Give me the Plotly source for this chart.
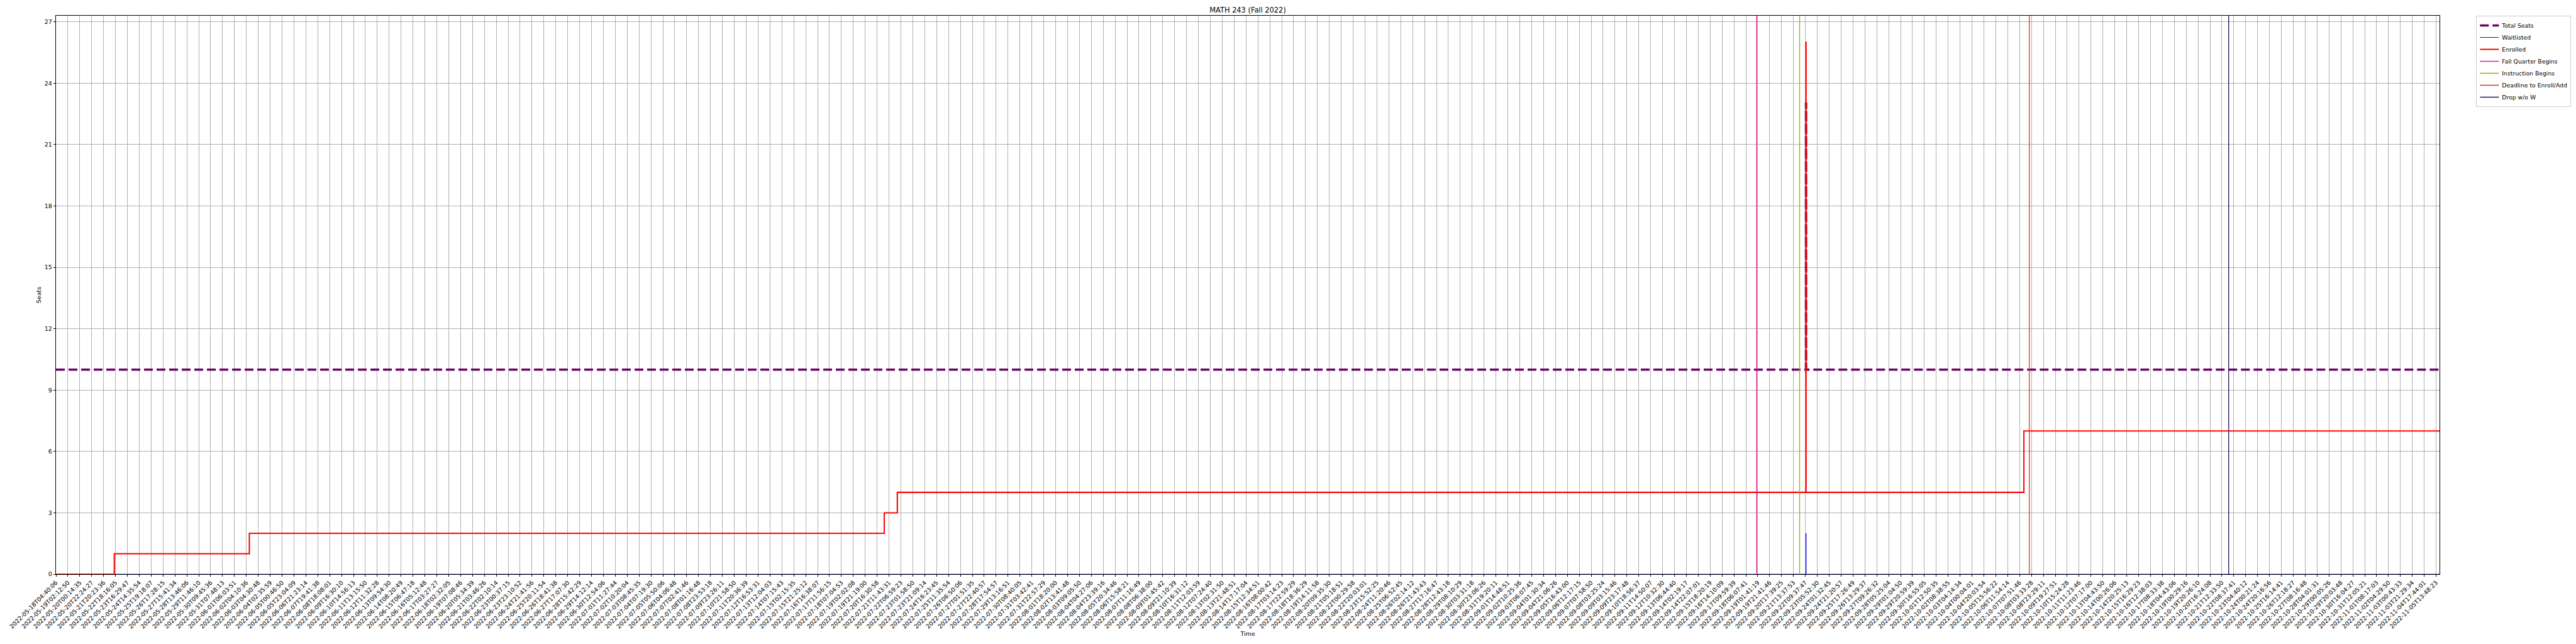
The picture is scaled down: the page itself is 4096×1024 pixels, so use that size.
import numpy as np
import pandas as pd
import plotly.graph_objects as go

# ---------------- data ----------------
title_text = "MATH 243 (Fall 2022)"

tick_times = [
    "2022-05-18T04:40:06", "2022-05-19T02:12:50", "2022-05-20T00:14:35", "2022-05-20T22:24:27",
    "2022-05-21T20:23:36", "2022-05-22T18:16:05", "2022-05-23T16:29:47", "2022-05-24T14:35:54",
    "2022-05-25T19:18:07", "2022-05-26T17:28:15", "2022-05-27T15:41:34", "2022-05-28T13:46:06",
    "2022-05-29T11:46:10", "2022-05-30T09:45:36", "2022-05-31T07:48:13", "2022-06-01T06:03:51",
    "2022-06-02T04:10:36", "2022-06-03T04:30:48", "2022-06-04T02:35:59", "2022-06-05T00:46:50",
    "2022-06-05T23:04:09", "2022-06-06T21:23:14", "2022-06-07T19:41:38", "2022-06-08T18:08:01",
    "2022-06-09T16:30:10", "2022-06-10T14:56:13", "2022-06-11T13:15:50", "2022-06-12T11:32:28",
    "2022-06-13T09:54:30", "2022-06-14T08:20:49", "2022-06-15T06:47:18", "2022-06-16T05:12:48",
    "2022-06-17T03:27:27", "2022-06-18T02:32:05", "2022-06-19T07:08:46", "2022-06-20T05:34:39",
    "2022-06-21T03:46:26", "2022-06-22T02:10:14", "2022-06-23T00:37:15", "2022-06-23T23:10:52",
    "2022-06-24T21:41:56", "2022-06-25T20:11:54", "2022-06-26T18:41:38", "2022-06-27T17:07:30",
    "2022-06-28T15:42:29", "2022-06-29T14:12:14", "2022-06-30T12:54:06", "2022-07-01T11:27:44",
    "2022-07-02T10:20:04", "2022-07-03T08:45:35", "2022-07-04T07:19:30", "2022-07-05T05:50:06",
    "2022-07-06T04:06:48", "2022-07-07T02:41:46", "2022-07-08T01:16:48", "2022-07-08T23:53:18",
    "2022-07-09T23:26:11", "2022-07-10T21:58:50", "2022-07-11T20:36:39", "2022-07-12T16:53:31",
    "2022-07-13T12:04:03", "2022-07-14T07:15:43", "2022-07-15T02:15:35", "2022-07-15T21:25:12",
    "2022-07-16T16:38:07", "2022-07-17T11:56:15", "2022-07-18T07:04:53", "2022-07-19T02:02:08",
    "2022-07-19T21:19:00", "2022-07-20T16:30:58", "2022-07-21T11:43:31", "2022-07-22T06:59:23",
    "2022-07-23T01:58:50", "2022-07-23T21:09:14", "2022-07-24T16:23:45", "2022-07-25T11:35:54",
    "2022-07-26T06:50:06", "2022-07-27T01:51:35", "2022-07-27T22:40:57", "2022-07-28T17:54:57",
    "2022-07-29T13:16:51", "2022-07-30T08:40:05", "2022-07-31T03:42:41", "2022-07-31T22:57:29",
    "2022-08-01T18:20:00", "2022-08-02T13:41:48", "2022-08-03T09:05:50", "2022-08-04T04:27:06",
    "2022-08-04T23:39:16", "2022-08-05T20:34:46", "2022-08-06T15:58:21", "2022-08-07T11:16:49",
    "2022-08-08T06:38:00", "2022-08-09T01:45:42", "2022-08-09T21:10:39", "2022-08-10T16:31:12",
    "2022-08-11T12:03:59", "2022-08-12T07:24:40", "2022-08-13T02:31:50", "2022-08-13T21:48:51",
    "2022-08-14T17:17:04", "2022-08-15T12:34:51", "2022-08-16T08:00:42", "2022-08-17T03:14:23",
    "2022-08-17T22:59:29", "2022-08-18T18:36:29", "2022-08-19T14:11:58", "2022-08-20T09:35:30",
    "2022-08-21T05:18:51", "2022-08-22T00:29:58", "2022-08-22T20:03:01", "2022-08-23T15:52:25",
    "2022-08-24T11:20:46", "2022-08-25T06:52:45", "2022-08-26T02:14:12", "2022-08-26T21:43:43",
    "2022-08-27T17:16:47", "2022-08-28T12:43:18", "2022-08-29T08:10:29", "2022-08-30T03:31:18",
    "2022-08-30T23:06:26", "2022-08-31T19:20:11", "2022-09-01T14:48:51", "2022-09-02T10:25:36",
    "2022-09-03T06:07:45", "2022-09-04T01:30:34", "2022-09-04T21:06:26", "2022-09-05T16:43:00",
    "2022-09-06T12:17:15", "2022-09-07T07:58:50", "2022-09-08T03:25:24", "2022-09-09T03:15:46",
    "2022-09-09T23:17:48", "2022-09-10T18:56:37", "2022-09-11T14:50:07", "2022-09-12T10:32:30",
    "2022-09-13T06:44:40", "2022-09-14T02:19:17", "2022-09-14T22:07:01", "2022-09-15T18:20:19",
    "2022-09-16T14:10:09", "2022-09-17T09:59:39", "2022-09-18T06:07:41", "2022-09-19T01:41:19",
    "2022-09-19T21:41:46", "2022-09-20T17:39:25", "2022-09-21T13:37:53", "2022-09-22T09:37:47",
    "2022-09-23T05:52:30", "2022-09-24T01:32:45", "2022-09-24T21:20:57", "2022-09-25T17:26:49",
    "2022-09-26T13:29:37", "2022-09-27T09:26:32", "2022-09-28T05:25:04", "2022-09-29T01:04:50",
    "2022-09-29T20:59:39", "2022-09-30T16:55:05", "2022-10-01T12:50:35", "2022-10-02T08:38:55",
    "2022-10-03T04:14:34", "2022-10-04T00:04:01", "2022-10-04T20:03:54", "2022-10-05T15:56:22",
    "2022-10-06T11:54:14", "2022-10-07T07:51:46", "2022-10-08T03:33:28", "2022-10-08T23:29:11",
    "2022-10-09T19:27:51", "2022-10-10T15:24:28", "2022-10-11T11:23:46", "2022-10-12T07:17:00",
    "2022-10-13T04:43:50", "2022-10-14T00:26:06", "2022-10-14T20:25:13", "2022-10-15T16:29:23",
    "2022-10-16T12:38:03", "2022-10-17T08:33:38", "2022-10-18T04:43:06", "2022-10-19T00:29:16",
    "2022-10-19T20:26:10", "2022-10-20T16:24:08", "2022-10-21T12:33:50", "2022-10-22T08:37:41",
    "2022-10-23T04:40:12", "2022-10-24T00:21:24", "2022-10-24T20:16:56", "2022-10-25T16:14:41",
    "2022-10-26T12:18:27", "2022-10-27T08:16:48", "2022-10-28T04:01:31", "2022-10-29T00:05:26",
    "2022-10-29T20:03:48", "2022-10-30T16:04:27", "2022-10-31T12:05:21", "2022-11-01T08:17:03",
    "2022-11-02T04:29:50", "2022-11-03T00:43:33", "2022-11-03T21:29:34", "2022-11-04T17:44:01",
    "2022-11-05T13:48:23",
]

# change points of each series (step-post)
enrolled_times = ["2022-05-18T04:40:06", "2022-05-22T16:05:00", "2022-06-02T10:15:00",
                  "2022-07-21T04:00:00", "2022-07-22T01:10:00", "2022-09-22T10:40:00",
                  "2022-09-22T10:50:00", "2022-10-07T15:00:00", "2022-11-05T19:36:00"]
enrolled_vals = [0, 1, 2, 3, 4, 26, 4, 7, 7]

waitlist_times = ["2022-05-18T04:40:06", "2022-09-22T10:40:00", "2022-09-22T10:50:00",
                  "2022-11-05T19:36:00"]
waitlist_vals = [0, 2, 0, 0]

seats_times = ["2022-05-18T04:40:06", "2022-09-22T10:40:00", "2022-09-22T10:50:00",
               "2022-11-05T19:36:00"]
seats_vals = [10, 23, 10, 10]

event_names = ["Fall Quarter Begins", "Instruction Begins", "Deadline to Enroll/Add", "Drop w/o W"]
event_times = ["2022-09-19T00:00:00", "2022-09-22T00:00:00", "2022-10-08T00:00:00", "2022-10-22T00:00:00"]
event_colors = ["#e31c98", "#8fb414", "#d63a1c", "#26195e"]

y_max = 27.3
y_ticks = list(range(0, 28, 3))

# ---------------- scale: sample-index axis (ticks every N samples) ----------------
def secs(times):
    return pd.to_datetime(pd.Series(times)).values.astype("datetime64[s]").astype(np.int64).astype(float)

tick_s = secs(tick_times)
tick_idx = np.arange(len(tick_times), dtype=float)

def to_pos(times):
    t = secs(times)
    p = np.interp(t, tick_s, tick_idx)
    hi = t > tick_s[-1]
    p[hi] = tick_idx[-1] + (t[hi] - tick_s[-1]) / (tick_s[-1] - tick_s[-2])
    return p

S = 0.682
FONT = "DejaVu Sans"
W, H = 4088, 1008          # page body adds an 8px margin at left/top

fig = go.Figure()

fig.add_trace(go.Scatter(
    x=to_pos(seats_times), y=seats_vals, mode="lines", line_shape="hv",
    name="Total Seats", line=dict(color="#6a006a", width=5.4 * S, dash="14px,6px"),
))
fig.add_trace(go.Scatter(
    x=to_pos(waitlist_times), y=waitlist_vals, mode="lines", line_shape="hv",
    name="Waitlisted", line=dict(color="#0000ff", width=1.4 * S),
))
fig.add_trace(go.Scatter(
    x=to_pos(enrolled_times), y=enrolled_vals, mode="lines", line_shape="hv",
    name="Enrolled", line=dict(color="#ff0000", width=3.0 * S),
))
for name, t, c in zip(event_names, event_times, event_colors):
    p = to_pos([t])[0]
    fig.add_trace(go.Scatter(
        x=[p, p], y=[0, y_max], mode="lines", name=name,
        line=dict(color=c, width=2.0 * S),
    ))

x_end = to_pos([enrolled_times[-1]])[0]

fig.update_layout(
    width=W, height=H,
    margin=dict(l=81, r=217, t=17, b=103, autoexpand=False),
    paper_bgcolor="white", plot_bgcolor="white",
    font=dict(family=FONT, size=13.9 * S, color="black"),
    title=dict(text=title_text, x=1976 / W, xanchor="center",
               y=1 - 8 / H, yanchor="middle", yref="container",
               font=dict(size=16.7 * S, color="black", family=FONT)),
    showlegend=True,
    legend=dict(x=1.0154, xanchor="left", y=1.0, yanchor="top",
                bgcolor="white", bordercolor="#cccccc", borderwidth=1,
                font=dict(size=13.6 * S, color="black", family=FONT),
                itemwidth=30, tracegroupgap=0),
    hovermode=False,
)

fig.update_xaxes(
    range=[0, x_end], tickmode="array", tickvals=tick_idx, ticktext=tick_times,
    tickangle=-45, tickfont=dict(size=13.9 * S, color="black", family=FONT),
    showgrid=True, gridcolor="#b0b0b0", gridwidth=0.75,
    showline=True, linecolor="black", linewidth=1, mirror=True,
    ticks="outside", ticklen=3.3, tickwidth=0.75, tickcolor="black",
    zeroline=False, automargin=False,
    title=dict(text="Time", font=dict(size=13.9 * S, color="black", family=FONT), standoff=2),
)
fig.update_yaxes(
    range=[0, y_max], tickmode="array", tickvals=y_ticks,
    tickfont=dict(size=13.9 * S, color="black", family=FONT),
    showgrid=True, gridcolor="#b0b0b0", gridwidth=0.75,
    showline=True, linecolor="black", linewidth=1, mirror=True,
    ticks="outside", ticklen=3.3, tickwidth=0.75, tickcolor="black",
    zeroline=False, automargin=False,
    title=dict(text="Seats", font=dict(size=13.9 * S, color="black", family=FONT), standoff=3),
)

fig.write_html("out.html")
